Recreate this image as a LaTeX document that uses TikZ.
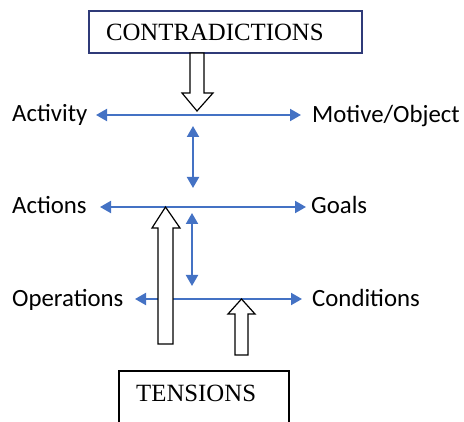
\documentclass[tikz,border=0pt]{standalone}
\usepackage{fontspec}
\setmainfont{Carlito}
\newfontfamily\serifbox{Liberation Serif}
\usetikzlibrary{arrows.meta}
\definecolor{linkblue}{HTML}{4472C4}
\definecolor{boxnavy}{HTML}{2F3A78}
\begin{document}
\begin{tikzpicture}[x=1pt,y=-1pt,
  label/.style={anchor=base west,inner sep=0pt,font=\fontsize{24.8}{28}\selectfont},
  biline/.style={draw=linkblue,line width=2pt,{Triangle[length=11pt,width=12pt]}-{Triangle[length=11pt,width=12pt]}},
  blockarrow/.style={draw=black,fill=white,line width=1.2pt,line join=miter},
  framebox/.style={line width=1.4pt}]
\useasboundingbox (0,0) rectangle (464,422);

% level labels
\node[label] (activity)   at (12,122)  {Activity};
\node[label] (motive)     at (312,123) {Motive/Object};
\node[label] (actions)    at (12,214)  {Actions};
\node[label] (goals)      at (311,214) {Goals};
\node[label] (operations) at (12,307)  {Operations};
\node[label] (conditions) at (312,307) {Conditions};

% ends of the blue links
\coordinate (actL) at (96,115);  \coordinate (actR) at (301,115);
\coordinate (acnL) at (100,207); \coordinate (acnR) at (306,207);
\coordinate (opL)  at (135,299); \coordinate (opR)  at (302,299);
\coordinate (v1t) at (193,126);  \coordinate (v1b) at (193,188);
\coordinate (v2t) at (192,213);  \coordinate (v2b) at (192,286);

\draw[biline] (actL) -- (actR);
\draw[biline] (acnL) -- (acnR);
\draw[biline] (opL) -- (opR);
\draw[biline] (v1t) -- (v1b);
\draw[biline] (v2t) -- (v2b);

% contradictions box and its downward arrow
\node[draw=boxnavy,framebox,rectangle,minimum width=273pt,minimum height=42pt,
      text width=239pt,inner xsep=17pt,inner ysep=0pt,align=left,
      font=\serifbox\fontsize{24.8}{28}\selectfont] (contra) at (225.5,32) {CONTRADICTIONS};
\draw[blockarrow] (190,53) -- (204,53) -- (204,93) -- (213,93) -- (197,111)
  -- (182,93) -- (190,93) -- cycle;

% tensions box, open at the bottom
\draw[framebox,draw=black] (119,430) -- (119,371) -- (289,371) -- (289,430);
\node[anchor=base west,inner sep=0pt,font=\serifbox\fontsize{24.8}{28}\selectfont]
  (tensions) at (136,402) {TENSIONS};

% upward arrows from tensions
\draw[blockarrow] (158,344) -- (158,228) -- (152,228) -- (165.5,207) -- (180,228)
  -- (173,228) -- (173,344) -- cycle;
\draw[blockarrow] (235,355) -- (235,314) -- (228,314) -- (241.5,299) -- (255,314)
  -- (248,314) -- (248,355) -- cycle;
\end{tikzpicture}
\end{document}
